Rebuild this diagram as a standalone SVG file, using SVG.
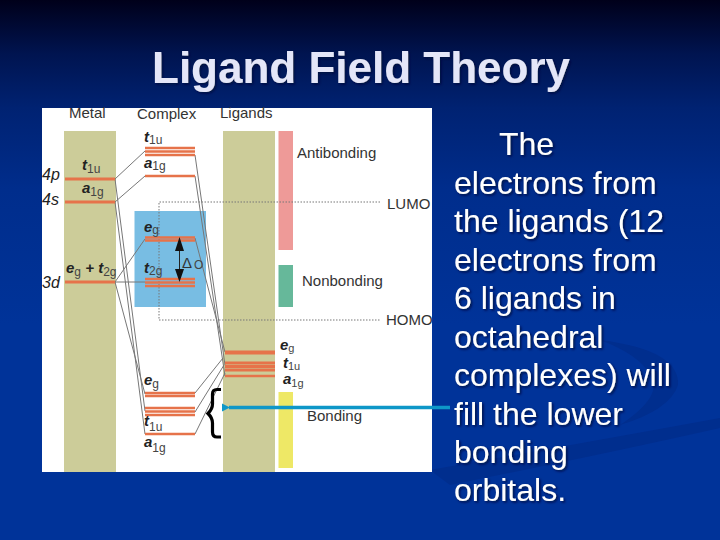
<svg xmlns="http://www.w3.org/2000/svg" width="720" height="540" viewBox="0 0 720 540">
<defs>
<linearGradient id="bg" x1="0" y1="0" x2="0" y2="1"><stop offset="0" stop-color="#00001a"/><stop offset="0.1" stop-color="#001450"/><stop offset="0.2" stop-color="#002272"/><stop offset="0.35" stop-color="#002d8c"/><stop offset="0.6" stop-color="#003399"/><stop offset="1" stop-color="#003399"/></linearGradient>
<marker id="ah" markerUnits="userSpaceOnUse" markerWidth="10" markerHeight="10" refX="1" refY="5" orient="auto"><path d="M8,1L0,5L8,9Z" fill="#0e97c8"/></marker>
<filter id="sh" x="-5%" y="-10%" width="110%" height="125%"><feDropShadow dx="1.500" dy="1.500" stdDeviation="0.800" flood-color="#00103c" flood-opacity="0.900"/></filter>
<filter id="soft" x="-5%" y="-5%" width="110%" height="110%"><feGaussianBlur stdDeviation="0.350"/></filter>
</defs>
<style>
text{font-family:"Liberation Sans",Arial,sans-serif}
.h{font-size:44px;font-weight:bold;fill:#e4e6f8}
.b{font-size:32px;fill:#fff}
.l{font-size:15px;fill:#333}
.n{font-size:16px;font-style:italic;fill:#222}
.bi{font-weight:bold;font-style:italic;font-size:15px;fill:#222}
.sub{font-size:12px;fill:#444}
.subs{font-size:11px;fill:#444}
.lv{stroke:#e6734a;fill:none}
.c{stroke:#777;stroke-width:1;fill:none}
.d{stroke:#777;stroke-width:1;stroke-dasharray:1.500 1.500;fill:none}
</style>
<rect width="720" height="540" fill="url(#bg)"/>
<path d="M430,470Q600,440 720,418V428Q600,455 450,485Z" fill="#002e8e"/>
<path d="M600,340Q680,350 678,385Q670,410 620,425Q665,395 650,375Q640,355 600,340Z" fill="#002e8e"/>
<g id="title" filter="url(#sh)"><text class="h" x="152" y="83">Ligand Field Theory</text></g>
<g id="panel" filter="url(#soft)">
<rect x="42" y="108" width="390" height="364" fill="#fff"/>
<rect x="64" y="131" width="52" height="341" fill="#cccc99"/>
<rect x="223" y="131" width="52" height="341" fill="#cccc99"/>
<rect x="278.500" y="131" width="14.500" height="119" fill="#ee9a98"/>
<rect x="278.500" y="265" width="14.500" height="42" fill="#66b89a"/>
<rect x="278.500" y="392" width="14.500" height="76" fill="#eee866"/>
<rect x="134.500" y="211" width="71.500" height="96" fill="#78bde3"/>
</g>
<g id="connectors">
<path class="d" d="M380,202H159V320H380"/>
<path class="c" d="M115,179L145,151M115,202L145,176M115,282L145,239M115,282L145,282"/>
<path class="c" d="M115,179L145,411M115,202L145,434M115,282L145,394"/>
<path class="c" d="M195,155L225,365M195,176L225,376M195,238L225,352"/>
<path class="c" d="M195,393L223,358M195,412L224,365M195,434L225,373"/>
</g>
<g id="metal-levels">
<path class="lv" stroke-width="3" d="M65,179H115M65,202H115M65,282H115"/>
<text class="l" x="69" y="118">Metal</text>
<text class="n" x="42" y="180">4p</text>
<text class="n" x="42" y="205">4s</text>
<text class="n" x="42" y="288">3d</text>
<text x="82" y="170"><tspan class="bi">t</tspan><tspan class="sub" dy="3">1u</tspan></text>
<text x="82" y="193"><tspan class="bi">a</tspan><tspan class="sub" dy="3">1g</tspan></text>
<text x="66" y="273"><tspan class="bi">e</tspan><tspan class="sub" dy="3">g</tspan><tspan class="bi" dy="-3" font-size="14"> + t</tspan><tspan class="sub" dy="3">2g</tspan></text>
</g>
<g id="complex-levels">
<path class="lv" stroke-width="2.400" d="M145,148H195M145,151.500H195M145,155H195M145,176H195M145,237.500H195M145,240.500H195M145,279H195M145,282.500H195M145,286H195"/>
<path class="lv" stroke-width="2.400" d="M145,393H195M145,396H195M145,408H195M145,411.500H195M145,415H195M145,434H195"/>
<text class="l" x="137" y="119">Complex</text>
<text x="144" y="142"><tspan class="bi">t</tspan><tspan class="sub" dy="2">1u</tspan></text>
<text x="144" y="168"><tspan class="bi">a</tspan><tspan class="sub" dy="2">1g</tspan></text>
<text x="144" y="232"><tspan class="bi">e</tspan><tspan class="sub" dy="2">g</tspan></text>
<text x="144" y="273"><tspan class="bi">t</tspan><tspan class="sub" dy="2">2g</tspan></text>
<text x="144" y="385"><tspan class="bi">e</tspan><tspan class="sub" dy="3">g</tspan></text>
<text x="144" y="426"><tspan class="bi">t</tspan><tspan class="sub" dy="5">1u</tspan></text>
<text x="144" y="447"><tspan class="bi">a</tspan><tspan class="sub" dy="5">1g</tspan></text>
</g>
<g id="delta">
<path d="M179.500,245V275" stroke="#222" stroke-width="1" fill="none"/>
<path d="M179.500,237L175,251H184ZM179.500,282L175,269H184Z" fill="#111"/>
<text x="182" y="268" font-size="15" fill="#333">Δ<tspan class="sub" dy="1" dx="2">O</tspan></text>
</g>
<g id="ligand-levels">
<path class="lv" stroke-width="4" d="M225,352.500H275"/>
<path class="lv" stroke-width="2.800" d="M225,363H275M225,366.500H275M225,370H275"/>
<path class="lv" stroke-width="2.500" d="M225,376H275"/>
<text class="l" x="220" y="118">Ligands</text>
<text x="280" y="350"><tspan class="bi">e</tspan><tspan class="subs" dy="2">g</tspan></text>
<text x="283" y="368"><tspan class="bi">t</tspan><tspan class="subs" dy="2">1u</tspan></text>
<text x="283" y="384"><tspan class="bi">a</tspan><tspan class="subs" dy="3">1g</tspan></text>
</g>
<g id="labels">
<text class="l" x="297" y="158">Antibonding</text>
<text class="l" x="302" y="286">Nonbonding</text>
<text class="l" x="307" y="421">Bonding</text>
<text class="l" x="387" y="209">LUMO</text>
<text class="l" x="386" y="325">HOMO</text>
</g>
<g id="callout">
<path d="M221,389.500H217Q212.500,389.500 212.500,394V404Q212.500,409 208,413.500Q212.500,418 212.500,423V432Q212.500,437 217,437H221" fill="none" stroke="#000" stroke-width="3.200"/>
<path d="M450,407.500H229" stroke="#0e97c8" stroke-width="3.500" fill="none" marker-end="url(#ah)"/>
</g>
<g id="body" filter="url(#sh)">
<text class="b" x="499" y="155">The</text>
<text class="b" x="454" y="194">electrons from</text>
<text class="b" x="454" y="232">the ligands (12</text>
<text class="b" x="454" y="271">electrons from</text>
<text class="b" x="454" y="309">6 ligands in</text>
<text class="b" x="454" y="348">octahedral</text>
<text class="b" x="454" y="386">complexes) will</text>
<text class="b" x="454" y="425">fill the lower</text>
<text class="b" x="454" y="463">bonding</text>
<text class="b" x="454" y="501">orbitals.</text>
</g>
</svg>
